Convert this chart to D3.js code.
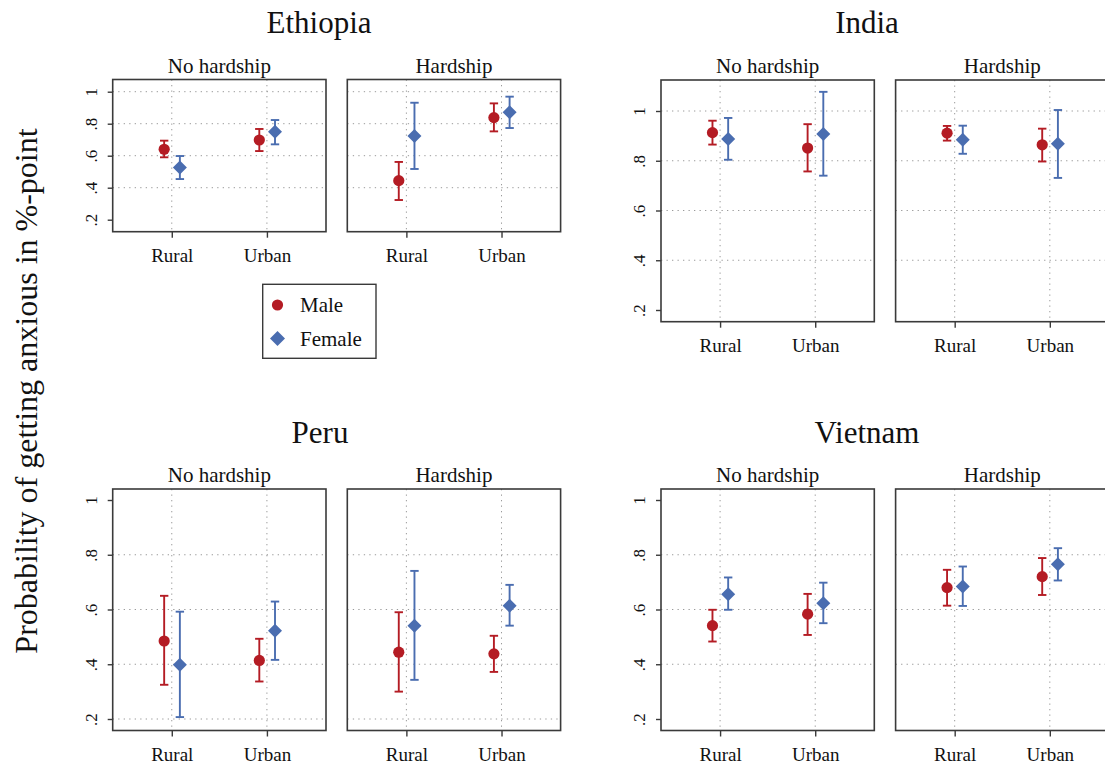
<!DOCTYPE html>
<html>
<head>
<meta charset="utf-8">
<script src="https://cdn.jsdelivr.net/npm/d3@7"></script>
<style>
  html, body { margin: 0; padding: 0; background: #fff; }
  svg { display: block; }
  text { font-family: "Liberation Serif", "Times New Roman", serif; fill: #111; }
</style>
</head>
<body>
<svg id="chart" width="1105" height="763"></svg>
<script>
// Predicted probability of getting anxious, with 95% confidence bounds.
// Order inside each array: No hardship (Rural Male, Rural Female, Urban Male, Urban Female),
// then Hardship (Rural Male, Rural Female, Urban Male, Urban Female).
const countries = ["Ethiopia", "India", "Peru", "Vietnam"];
const panels = ["No hardship", "Hardship"];
const areas = ["Rural", "Urban"];
const groups = ["Male", "Female"];
const yTickValues = [0.2, 0.4, 0.6, 0.8, 1];
const yTickLabels = [".2", ".4", ".6", ".8", "1"];

const ethiopiaMean = [0.640, 0.527, 0.698, 0.750, 0.444, 0.723, 0.838, 0.871];
const ethiopiaLow  = [0.590, 0.454, 0.629, 0.671, 0.323, 0.517, 0.752, 0.773];
const ethiopiaHigh = [0.694, 0.598, 0.767, 0.823, 0.561, 0.931, 0.927, 0.969];

const indiaMean = [0.913, 0.887, 0.851, 0.908, 0.911, 0.884, 0.864, 0.868];
const indiaLow  = [0.865, 0.804, 0.757, 0.740, 0.881, 0.828, 0.797, 0.731];
const indiaHigh = [0.961, 0.972, 0.947, 1.077, 0.940, 0.941, 0.929, 1.004];

const peruMean = [0.485, 0.398, 0.414, 0.522, 0.444, 0.541, 0.438, 0.614];
const peruLow  = [0.325, 0.207, 0.337, 0.416, 0.300, 0.343, 0.372, 0.541];
const peruHigh = [0.650, 0.592, 0.493, 0.629, 0.590, 0.741, 0.504, 0.690];

const vietnamMean = [0.541, 0.656, 0.583, 0.623, 0.680, 0.684, 0.720, 0.765];
const vietnamLow  = [0.483, 0.599, 0.507, 0.550, 0.614, 0.613, 0.653, 0.706];
const vietnamHigh = [0.599, 0.717, 0.657, 0.698, 0.745, 0.757, 0.788, 0.824];

const yAxisTitle = "Probability of getting anxious in %-point";

const seriesByCountry = {
  Ethiopia: [ethiopiaMean, ethiopiaLow, ethiopiaHigh],
  India: [indiaMean, indiaLow, indiaHigh],
  Peru: [peruMean, peruLow, peruHigh],
  Vietnam: [vietnamMean, vietnamLow, vietnamHigh]
};

// Page layout for each country block
const layout = {
  Ethiopia: { titleX: 319, titleY: 33, left: 112.7, top: 79.5, bottom: 231.7, yTop: 91.7, yBot: 219.7, grid: [0.4, 0.6, 0.8, 1] },
  India:    { titleX: 867, titleY: 33, left: 661,   top: 80,   bottom: 321.7, yTop: 111,  yBot: 310,   grid: [0.4, 0.6, 0.8, 1] },
  Peru:     { titleX: 320, titleY: 443, left: 112.7, top: 489, bottom: 730.5, yTop: 500,  yBot: 719,   grid: [0.2, 0.4, 0.6, 0.8] },
  Vietnam:  { titleX: 867, titleY: 443, left: 661,   top: 489, bottom: 730.5, yTop: 500,  yBot: 719,   grid: [0.4, 0.6, 0.8] }
};
const panelW = 213.3, panelGap = 21.3;
const serif = "'Liberation Serif', 'Times New Roman', serif";
const colors = { Male: "#b41c24", Female: "#4a6db0" };
const offsets = { Male: -0.08, Female: 0.085 };

const svg = d3.select("#chart");

countries.forEach(country => {
  const L = layout[country];
  const [mean, low, high] = seriesByCountry[country];
  const g = svg.append("g");

  g.append("text")
    .attr("x", L.titleX).attr("y", L.titleY)
    .attr("text-anchor", "middle")
    .style("font-size", "31px")
    .text(country);

  const y = d3.scaleLinear().domain([0.2, 1]).range([L.yBot, L.yTop]);

  panels.forEach((panel, pi) => {
    const x0 = L.left + pi * (panelW + panelGap);
    const x = d3.scaleLinear().domain([0.379, 2.621]).range([x0, x0 + panelW]);
    const cat = a => areas.indexOf(a) + 1;
    const pg = g.append("g");

    // subtitle
    pg.append("text")
      .attr("x", x0 + panelW / 2).attr("y", L.top - 7)
      .attr("text-anchor", "middle")
      .style("font-size", "21px")
      .text(panel);

    // grid
    pg.selectAll("line.hgrid").data(L.grid).join("line")
      .attr("x1", x0).attr("x2", x0 + panelW)
      .attr("y1", d => y(d)).attr("y2", d => y(d))
      .attr("stroke", "#9a9a9a").attr("stroke-width", 1)
      .attr("stroke-dasharray", "1.3,4.2");
    pg.selectAll("line.vgrid").data(areas).join("line")
      .attr("x1", d => x(cat(d))).attr("x2", d => x(cat(d)))
      .attr("y1", L.top).attr("y2", L.bottom)
      .attr("stroke", "#9a9a9a").attr("stroke-width", 1)
      .attr("stroke-dasharray", "1.3,4.2");

    // frame
    pg.append("rect")
      .attr("x", x0).attr("y", L.top)
      .attr("width", panelW).attr("height", L.bottom - L.top)
      .attr("fill", "none").attr("stroke", "#3a3a3a").attr("stroke-width", 1.6);

    // x axis
    const xAxis = d3.axisBottom(x).tickValues([1, 2]).tickFormat(d => areas[d - 1])
      .tickSize(6).tickSizeOuter(0);
    const xa = pg.append("g").attr("transform", `translate(0,${L.bottom})`).call(xAxis)
      .attr("font-family", serif).attr("font-size", 19);
    xa.select(".domain").remove();
    xa.selectAll(".tick line").attr("stroke", "#3a3a3a").attr("stroke-width", 1.4);
    xa.selectAll(".tick text")
      .attr("y", 30).attr("dy", 0)
      .style("font-size", "19px")
      .style("font-family", serif)
      .attr("fill", "#111");

    // y axis on first panel
    if (pi === 0) {
      const yAxis = d3.axisLeft(y).tickValues(yTickValues)
        .tickFormat((d, i) => yTickLabels[i]).tickSize(5).tickSizeOuter(0);
      const ya = pg.append("g").attr("transform", `translate(${x0},0)`).call(yAxis)
        .attr("font-family", serif).attr("font-size", 17);
      ya.select(".domain").remove();
      ya.selectAll(".tick line").attr("stroke", "#3a3a3a").attr("stroke-width", 1.4);
      ya.selectAll(".tick text")
        .attr("x", 0).attr("dy", 0)
        .attr("transform", "translate(-16,0) rotate(-90)")
        .attr("text-anchor", "middle")
        .style("font-size", "17px")
        .style("font-family", serif)
        .attr("fill", "#111");
    }

    // estimates
    const rows = [];
    areas.forEach((a, ai) => {
      groups.forEach((gr, gi) => {
        const k = pi * 4 + ai * 2 + gi;
        rows.push({ area: a, group: gr, m: mean[k], lo: low[k], hi: high[k] });
      });
    });
    const px = d => x(cat(d.area) + offsets[d.group]);

    const bars = pg.selectAll("g.est").data(rows).join("g")
      .attr("stroke", d => colors[d.group]).attr("fill", d => colors[d.group]);
    bars.append("line")
      .attr("x1", px).attr("x2", px)
      .attr("y1", d => y(d.lo)).attr("y2", d => y(d.hi))
      .attr("stroke-width", 1.9);
    bars.append("line")
      .attr("x1", d => px(d) - 4.2).attr("x2", d => px(d) + 4.2)
      .attr("y1", d => y(d.lo)).attr("y2", d => y(d.lo))
      .attr("stroke-width", 1.9);
    bars.append("line")
      .attr("x1", d => px(d) - 4.2).attr("x2", d => px(d) + 4.2)
      .attr("y1", d => y(d.hi)).attr("y2", d => y(d.hi))
      .attr("stroke-width", 1.9);
    bars.filter(d => d.group === "Male").append("circle")
      .attr("cx", px).attr("cy", d => y(d.m)).attr("r", 5.6).attr("stroke", "none");
    bars.filter(d => d.group === "Female").append("path")
      .attr("d", d => {
        const cx = px(d), cy = y(d.m), r = 7;
        return `M${cx},${cy - r}L${cx + r},${cy}L${cx},${cy + r}L${cx - r},${cy}Z`;
      }).attr("stroke", "none");
  });
});

// shared y axis title
svg.append("text")
  .attr("transform", "translate(37,391) rotate(-90)")
  .attr("text-anchor", "middle")
  .style("font-size", "32px")
  .text(yAxisTitle);

// legend
const lg = svg.append("g");
lg.append("rect")
  .attr("x", 262.7).attr("y", 284.3).attr("width", 113.3).attr("height", 74)
  .attr("fill", "#fff").attr("stroke", "#3a3a3a").attr("stroke-width", 1.4);
groups.forEach((gr, i) => {
  const cy = 305 + i * 33.5;
  if (gr === "Male") {
    lg.append("circle").attr("cx", 277.5).attr("cy", cy).attr("r", 5.6).attr("fill", colors[gr]);
  } else {
    const r = 7.5;
    lg.append("path")
      .attr("d", `M277.5,${cy - r}L${277.5 + r},${cy}L277.5,${cy + r}L${277.5 - r},${cy}Z`)
      .attr("fill", colors[gr]);
  }
  lg.append("text").attr("x", 300).attr("y", cy + 7)
    .style("font-size", "21px").text(gr);
});
</script>
</body>
</html>
